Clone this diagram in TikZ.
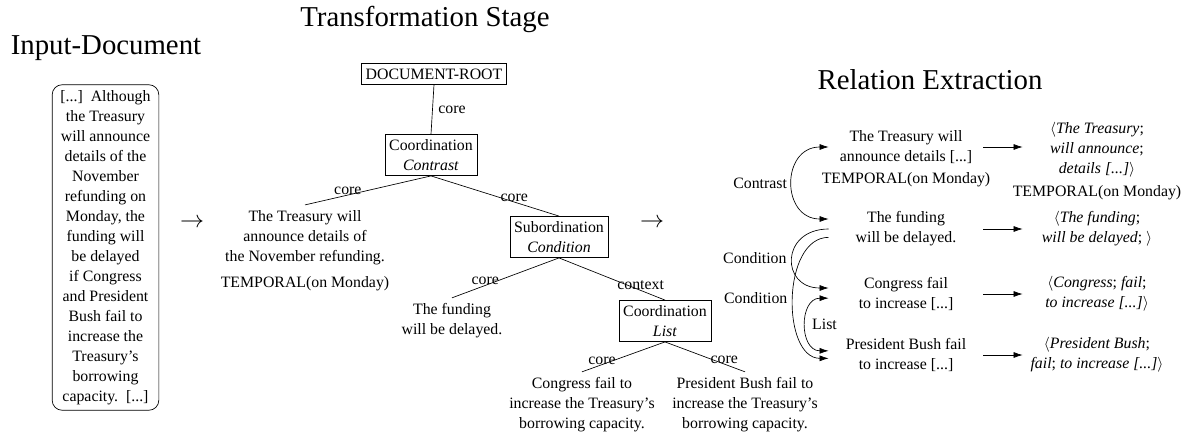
\documentclass[tikz,border=0pt]{standalone}
\usepackage{fontspec}
\setmainfont{Liberation Serif}
\usetikzlibrary{arrows.meta,positioning}

\begin{document}
\begin{tikzpicture}[x=0.6pt,y=-0.6pt,
                    every node/.style={font=\fontsize{9.5}{12}\selectfont},
                    title/.style={font=\fontsize{17.28}{20}\selectfont,anchor=base},
                    box/.style={draw,align=center,inner xsep=2.5pt,inner ysep=3pt},
                    leaf/.style={align=center},
                    lbl/.style={above,inner sep=0pt},
                    sent/.style={align=center,minimum width=92.4pt},
                    trip/.style={align=center,minimum width=88.8pt},
                    bigarrow/.style={font=\fontsize{15.5}{18}\selectfont},
                    >={Latex[length=5.5pt,width=3.6pt]}]

\useasboundingbox (0,0) rectangle (1194,438);

\node[title] (tin) at (106,55) {Input-Document};
\node[title] (ttr) at (425,27) {Transformation Stage};
\node[title] (tre) at (930,89) {Relation Extraction};

% input text
\node[draw,rounded corners=6pt,align=center,minimum width=64pt] (doc) at (105.5,247.5)
  {[...]\ \ Although\\the Treasury\\will announce\\details of the\\November\\refunding on\\
   Monday, the\\funding will\\be delayed\\if Congress\\and President\\Bush fail to\\
   increase the\\Treasury's\\borrowing\\capacity.\ \ [...]};

\node[bigarrow] (to1) at (192,223) {$\rightarrow$};
\node[bigarrow] (to2) at (652,223) {$\rightarrow$};

% transformation tree
\node[box] (root) at (434,74) {DOCUMENT-ROOT};
\node[box] (contrast) at (431,155) {Coordination\\\textit{Contrast}};
\node[box] (cond) at (559,237) {Subordination\\\textit{Condition}};
\node[box] (list) at (665,321) {Coordination\\\textit{List}};

\node[leaf] (treasury) at (305,238) {The Treasury will\\announce details of\\the November refunding.};
\node[below=0pt of treasury] (temporal) {TEMPORAL(on Monday)};
\node[leaf] (fund) at (452,321) {The funding\\will be delayed.};
\node[leaf] (cong) at (582,405) {Congress fail to\\increase the Treasury's\\borrowing capacity.};
\node[leaf] (bush) at (745,405) {President Bush fail to\\increase the Treasury's\\borrowing capacity.};

\draw (root.south) -- node[right] {core} (contrast.north);
\draw (contrast.south) -- node[lbl,pos=0.66] {core} (treasury.north);
\draw (contrast.south) -- node[lbl,pos=0.65] {core} (cond.north);
\draw (cond.south) -- node[lbl,pos=0.69] {core} (fund.north);
\draw (cond.south) -- node[lbl,pos=0.77] {context} (list.north);
\draw (list.south) -- node[lbl,pos=0.76] {core} (cong.north);
\draw (list.south) -- node[lbl,pos=0.74] {core} (bush.north);

% relation extraction
\node[sent] (r1) at (906,147) {The Treasury will\\announce details [...]};
\node[below=-1.5pt of r1] (r1t) {TEMPORAL(on Monday)};
\node[sent] (r2) at (906,229) {The funding\\will be delayed.};
\node[sent] (r3) at (906,294) {Congress fail\\to increase [...]};
\node[sent] (r4) at (906,355) {President Bush fail\\to increase [...]};

\node[trip] (e1) at (1097,150) {$\langle$\textit{The Treasury};\\\textit{will announce};\\\textit{details [...]}$\rangle$};
\node[below=-2.5pt of e1] (e1t) {TEMPORAL(on Monday)};
\node[trip] (e2) at (1097,229) {$\langle$\textit{The funding};\\\textit{will be delayed}; $\rangle$};
\node[trip] (e3) at (1097,294) {$\langle$\textit{Congress}; \textit{fail};\\\textit{to increase [...]}$\rangle$};
\node[trip] (e4) at (1097,355) {$\langle$\textit{President Bush};\\\textit{fail}; \textit{to increase [...]}$\rangle$};

\foreach \i in {1,...,4}
  \draw[->] (r\i.east) -- (r\i.east -| e\i.west);

\draw[<->] (r1.west) to[out=180,in=180,looseness=1.7] node[left] {Contrast} ([yshift=6pt]r2.west);
\draw[->] (r2.west) to[out=180,in=180,looseness=2.1] node[left] {Condition} ([yshift=3.6pt]r3.west);
\draw[->] ([yshift=-5pt]r2.west) to[out=180,in=180,looseness=1.0] node[left] {Condition} ([yshift=-2pt]r4.west);
\draw[<->] ([yshift=-2.5pt]r3.west) to[out=180,in=180,looseness=1.45] node[right] {List} ([yshift=2.5pt]r4.west);

\end{tikzpicture}
\end{document}
